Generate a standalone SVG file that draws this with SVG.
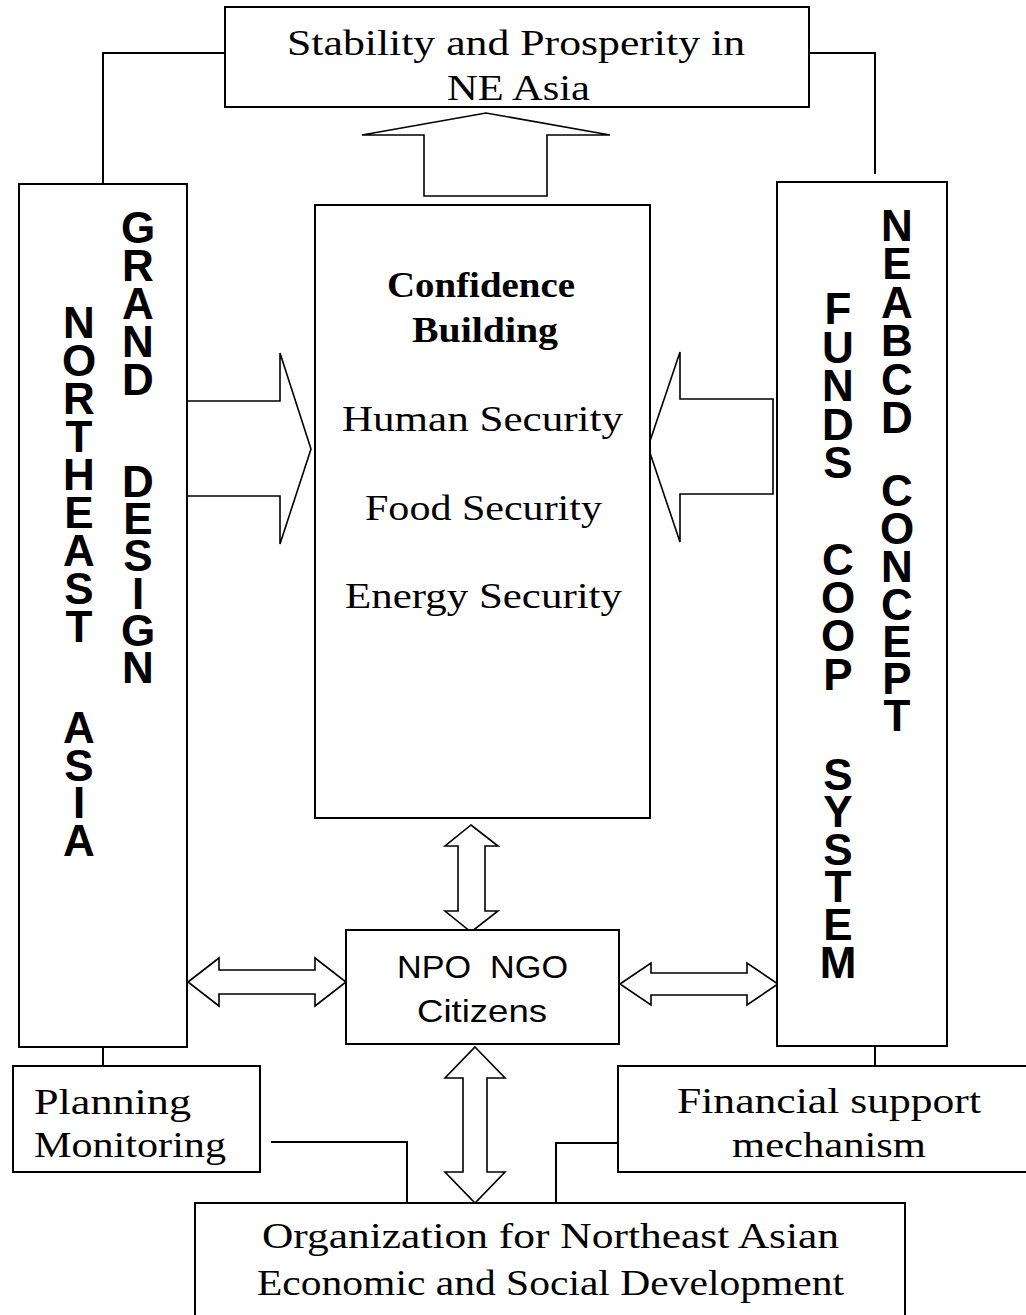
<svg xmlns="http://www.w3.org/2000/svg" width="1026" height="1315" viewBox="0 0 1026 1315">
<style>
.box{fill:#fff;stroke:#000;stroke-width:2}
.arr{fill:#fff;stroke:#000;stroke-width:1.6;stroke-linejoin:miter}
.ln{fill:none;stroke:#000;stroke-width:2}
.serif{font-family:"Liberation Serif","Times New Roman",serif;font-size:36px;fill:#000}
.bold{font-weight:bold}
.sans{font-family:"Liberation Sans",Arial,sans-serif;font-size:32px;fill:#000}
.vert{font-family:"Liberation Sans",Arial,sans-serif;font-size:44px;font-weight:bold;fill:#000;text-anchor:middle}
</style>
<rect width="1026" height="1315" fill="#fff"/>
<g id="connectors">
<polyline class="ln" points="230,53 103,53 103,184"/>
<polyline class="ln" points="799,53 875,53 875,174"/>
<line class="ln" x1="103" y1="1047" x2="103" y2="1066"/>
<line class="ln" x1="875" y1="1046" x2="875" y2="1066"/>
<polyline class="ln" points="271,1142 407,1142 407,1203"/>
<polyline class="ln" points="618,1143 556,1143 556,1203"/>
<polygon class="arr" points="424,196 424,135 362,135 486,113 610,135 547,135 547,196"/>
<polygon class="arr" points="187,401 280,401 280,353 311,449 280,544 280,496 187,496"/>
<polygon class="arr" points="773,399 680,399 680,352 648,447 680,542 680,494 773,494"/>
<polygon class="arr" points="471,825 498,846 485,846 485,911 498,911 471,932 445,911 458,911 458,846 445,846"/>
<polygon class="arr" points="188,982 219,958 219,970 315,970 315,958 346,982 315,1006 315,994 219,994 219,1006"/>
<polygon class="arr" points="620,984 651,963 651,973 747,973 747,963 778,984 747,1005 747,995 651,995 651,1005"/>
<polygon class="arr" points="475,1047 505,1078 487,1078 487,1172 505,1172 475,1203 445,1172 463,1172 463,1078 445,1078"/>
</g>
<g id="top">
<rect class="box" x="225" y="7" width="584" height="100"/>
<text class="serif" x="287" y="55" textLength="458" lengthAdjust="spacingAndGlyphs">Stability and Prosperity in</text>
<text class="serif" x="447" y="100" textLength="143" lengthAdjust="spacingAndGlyphs">NE Asia</text>
</g>
<g id="left">
<rect class="box" x="19" y="184" width="168" height="863"/>
<text class="vert"><tspan x="79" y="338">N</tspan><tspan x="79" y="376">O</tspan><tspan x="79" y="414">R</tspan><tspan x="79" y="452">T</tspan><tspan x="79" y="490">H</tspan><tspan x="79" y="528">E</tspan><tspan x="79" y="566">A</tspan><tspan x="79" y="604">S</tspan><tspan x="79" y="642">T</tspan><tspan x="79" y="743">A</tspan><tspan x="79" y="781">S</tspan><tspan x="79" y="818">I</tspan><tspan x="79" y="856">A</tspan></text>
<text class="vert"><tspan x="138" y="243">G</tspan><tspan x="138" y="281">R</tspan><tspan x="138" y="319">A</tspan><tspan x="138" y="357">N</tspan><tspan x="138" y="395">D</tspan><tspan x="138" y="497">D</tspan><tspan x="138" y="534">E</tspan><tspan x="138" y="571">S</tspan><tspan x="138" y="609">I</tspan><tspan x="138" y="646">G</tspan><tspan x="138" y="683">N</tspan></text>
</g>
<g id="right">
<rect class="box" x="777" y="182" width="170" height="864"/>
<text class="vert"><tspan x="838" y="324">F</tspan><tspan x="838" y="363">U</tspan><tspan x="838" y="401">N</tspan><tspan x="838" y="440">D</tspan><tspan x="838" y="478">S</tspan><tspan x="838" y="575">C</tspan><tspan x="838" y="613">O</tspan><tspan x="838" y="651">O</tspan><tspan x="838" y="690">P</tspan><tspan x="838" y="790">S</tspan><tspan x="838" y="827">Y</tspan><tspan x="838" y="865">S</tspan><tspan x="838" y="902">T</tspan><tspan x="838" y="940">E</tspan><tspan x="838" y="978">M</tspan></text>
<text class="vert"><tspan x="897" y="241">N</tspan><tspan x="897" y="279">E</tspan><tspan x="897" y="318">A</tspan><tspan x="897" y="356">B</tspan><tspan x="897" y="395">C</tspan><tspan x="897" y="433">D</tspan><tspan x="897" y="506">C</tspan><tspan x="897" y="544">O</tspan><tspan x="897" y="582">N</tspan><tspan x="897" y="620">C</tspan><tspan x="897" y="657">E</tspan><tspan x="897" y="694">P</tspan><tspan x="897" y="731">T</tspan></text>
</g>
<g id="center">
<rect class="box" x="315" y="205" width="335" height="613"/>
<text class="serif bold" x="387" y="297" textLength="188" lengthAdjust="spacingAndGlyphs">Confidence</text>
<text class="serif bold" x="412" y="342" textLength="146" lengthAdjust="spacingAndGlyphs">Building</text>
<text class="serif" x="342" y="431" textLength="281" lengthAdjust="spacingAndGlyphs">Human Security</text>
<text class="serif" x="365" y="520" textLength="237" lengthAdjust="spacingAndGlyphs">Food Security</text>
<text class="serif" x="345" y="608" textLength="277" lengthAdjust="spacingAndGlyphs">Energy Security</text>
</g>
<g id="npo">
<rect class="box" x="346" y="930" width="273" height="114"/>
<text class="sans" x="397" y="978" textLength="171" lengthAdjust="spacingAndGlyphs" xml:space="preserve">NPO  NGO</text>
<text class="sans" x="417" y="1022" textLength="130" lengthAdjust="spacingAndGlyphs">Citizens</text>
</g>
<g id="planning">
<rect class="box" x="13" y="1066" width="247" height="106"/>
<text class="serif" x="34" y="1114" textLength="157" lengthAdjust="spacingAndGlyphs">Planning</text>
<text class="serif" x="34" y="1157" textLength="192" lengthAdjust="spacingAndGlyphs">Monitoring</text>
</g>
<g id="financial">
<rect class="box" x="618" y="1066" width="420" height="106"/>
<text class="serif" x="677" y="1113" textLength="304" lengthAdjust="spacingAndGlyphs">Financial support</text>
<text class="serif" x="732" y="1157" textLength="194" lengthAdjust="spacingAndGlyphs">mechanism</text>
</g>
<g id="organization">
<rect class="box" x="195" y="1203" width="710" height="130"/>
<text class="serif" x="262" y="1248" textLength="577" lengthAdjust="spacingAndGlyphs">Organization for Northeast Asian</text>
<text class="serif" x="257" y="1295" textLength="587" lengthAdjust="spacingAndGlyphs">Economic and Social Development</text>
</g>
</svg>
